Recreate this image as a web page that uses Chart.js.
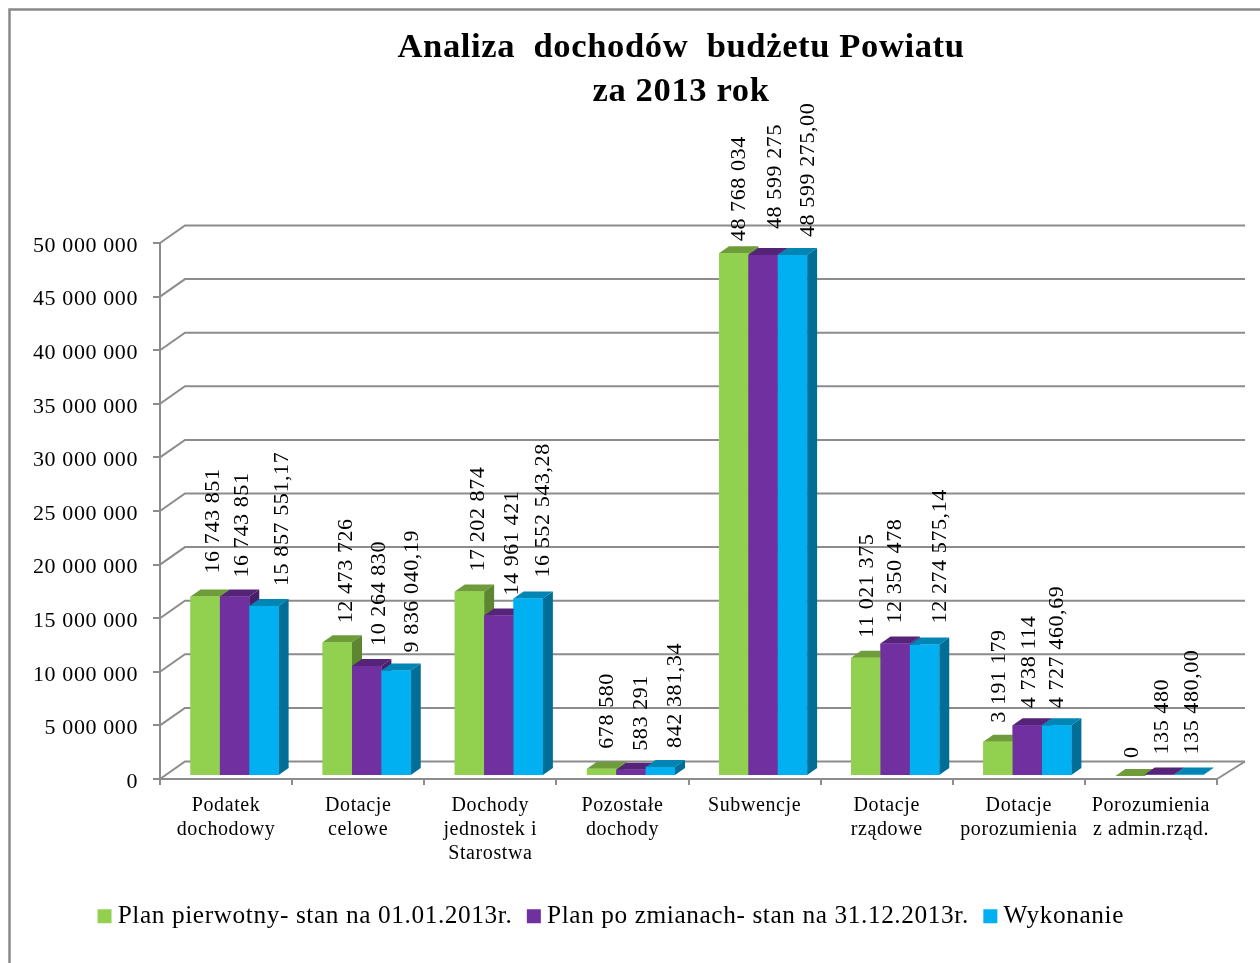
<!DOCTYPE html>
<html><head><meta charset="utf-8">
<style>html,body{margin:0;padding:0;background:#fff}canvas{display:block}</style>
<script src="https://cdn.jsdelivr.net/npm/chart.js@4"></script>
</head><body><canvas id="c" width="1260" height="963"></canvas>
<script>
const categories = [['Podatek','dochodowy'],['Dotacje','celowe'],['Dochody','jednostek i','Starostwa'],['Pozostałe','dochody'],['Subwencje'],['Dotacje','rządowe'],['Dotacje','porozumienia'],['Porozumienia','z admin.rząd.']];
const seriesNames = ['Plan pierwotny- stan na 01.01.2013r.','Plan po zmianach- stan na 31.12.2013r.','Wykonanie'];
const planPierwotny = [16743851,12473726,17202874,678580,48768034,11021375,3191179,0];
const planPoZmianach = [16743851,10264830,14961421,583291,48599275,12350478,4738114,135480];
const wykonanie = [15857551.17,9836040.19,16552543.28,842381.34,48599275.00,12274575.14,4727460.69,135480.00];
const labelsPierwotny = ['16 743 851','12 473 726','17 202 874','678 580','48 768 034','11 021 375','3 191 179','0'];
const labelsPoZmianach = ['16 743 851','10 264 830','14 961 421','583 291','48 599 275','12 350 478','4 738 114','135 480'];
const labelsWykonanie = ['15 857 551,17','9 836 040,19','16 552 543,28','842 381,34','48 599 275,00','12 274 575,14','4 727 460,69','135 480,00'];
const titleLines = ['Analiza  dochodów  budżetu Powiatu','za 2013 rok'];

const front = ['#92D050','#7030A0','#00B0F0'];
const topFace = ['#6E9C3A','#552479','#0085B5'];
const sideFace = ['#5E8630','#481F68','#006E96'];
const valueLabels = [labelsPierwotny, labelsPoZmianach, labelsWykonanie];
// hand-placed label offsets from the top-centre of each bar, as in the reference
const labelDx = [[8,9,9,6,6,1,1,2],[8,13,13,10,12,0,2,3],[18,16,15,15,16,16,1,3]];
const labelDy = [[-23,-19,-20,-20,-12,-20,-19,-18],[-19,-20,-20,-19,-26,-20,-17,-20],[-20,-18,-21,-19,-18,-21,-17,-20]];
const SHIFT_X = 8.5, SHIFT_Y = -3, DX = 10, DY = -7, WALL_X = 25, WALL_Y = -17.5, WALL_XR = 28;
const GRID = '#8C8C8C';

function poly(ctx, pts, fill){
  ctx.fillStyle = fill; ctx.beginPath();
  pts.forEach((p,i)=> i ? ctx.lineTo(p[0],p[1]) : ctx.moveTo(p[0],p[1]));
  ctx.closePath(); ctx.fill();
}

const plugin3d = {
  id:'plugin3d',
  beforeUpdate(chart){ chart.ctx.letterSpacing = '0.6px'; },
  afterLayout(chart){
    chart.titleBlock.left = 102; chart.titleBlock.right = 1260;
    chart.legend.left = -16; chart.legend.right = 1244;
    chart.legend.top += 2; chart.legend.bottom += 2;
  },
  beforeDraw(chart){
    const ctx = chart.ctx;
    ctx.save();
    ctx.fillStyle = '#fff'; ctx.fillRect(0,0,1260,963);
    ctx.strokeStyle = '#8A8A8A'; ctx.lineWidth = 2.5;
    ctx.beginPath(); ctx.moveTo(9.5,963); ctx.lineTo(9.5,9.5); ctx.lineTo(1260,9.5); ctx.stroke();
    ctx.restore();
  },
  beforeDatasetsDraw(chart){
    const {ctx, scales:{y}, chartArea:a} = chart;
    ctx.save();
    ctx.strokeStyle = GRID; ctx.lineWidth = 2;
    y.ticks.forEach(t=>{
      const py = y.getPixelForValue(t.value);
      ctx.beginPath();
      ctx.moveTo(a.left,py); ctx.lineTo(a.left+WALL_X,py+WALL_Y); ctx.lineTo(a.right+WALL_XR,py+WALL_Y);
      ctx.stroke();
    });
    const by = y.getPixelForValue(0);
    ctx.beginPath(); ctx.moveTo(a.right,by); ctx.lineTo(a.right+WALL_XR,by+WALL_Y); ctx.stroke();
    ctx.restore();
    ctx.save();
    ctx.translate(SHIFT_X,SHIFT_Y);
  },
  afterDatasetsDraw(chart){
    const ctx = chart.ctx;
    categories.forEach((_,i)=>{
      chart.data.datasets.forEach((ds,d)=>{
        const el = chart.getDatasetMeta(d).data[i];
        const p = el.getProps(['x','y','base','width'],true);
        const x1 = p.x-p.width/2, x2 = p.x+p.width/2;
        poly(ctx,[[x1,p.y],[x1+DX,p.y+DY],[x2+DX,p.y+DY],[x2,p.y]],topFace[d]);
        poly(ctx,[[x2,p.y],[x2+DX,p.y+DY],[x2+DX,p.base+DY],[x2,p.base]],sideFace[d]);
        el.draw(ctx);
      });
    });
    ctx.font = '22px "Liberation Serif"';
    ctx.fillStyle = '#000';
    ctx.textAlign = 'left'; ctx.textBaseline = 'middle';
    categories.forEach((_,i)=>{
      chart.data.datasets.forEach((ds,d)=>{
        const el = chart.getDatasetMeta(d).data[i];
        const p = el.getProps(['x','y'],true);
        ctx.save();
        ctx.translate(p.x+labelDx[d][i], p.y+labelDy[d][i]);
        ctx.rotate(-Math.PI/2);
        ctx.fillText(valueLabels[d][i],0,0);
        ctx.restore();
      });
    });
    ctx.restore();
  }
};

new Chart(document.getElementById('c'),{
  type:'bar',
  data:{labels:categories,datasets:[
    {label:seriesNames[0],data:planPierwotny,backgroundColor:front[0]},
    {label:seriesNames[1],data:planPoZmianach,backgroundColor:front[1]},
    {label:seriesNames[2],data:wykonanie,backgroundColor:front[2]}
  ]},
  plugins:[plugin3d],
  options:{
    responsive:false,animation:false,
    layout:{padding:{left:0,right:43,top:0,bottom:26}},
    datasets:{bar:{categoryPercentage:0.667,barPercentage:1,borderWidth:0}},
    scales:{
      x:{
        afterFit(s){s.height=101.7;},
        grid:{drawOnChartArea:false,drawTicks:true,tickLength:6,color:GRID,lineWidth:2,offset:true},
        border:{color:GRID,width:2},
        ticks:{autoSkip:false,maxRotation:0,minRotation:0,padding:9,color:'#000',font:{family:'"Liberation Serif"',size:20,lineHeight:1.2}}
      },
      y:{
        min:0,max:50000000,
        afterFit(s){s.width=160;},
        grid:{drawOnChartArea:false,drawTicks:true,tickLength:7,color:GRID,lineWidth:2},
        border:{color:GRID,width:2},
        ticks:{stepSize:5000000,padding:15,labelOffset:3,color:'#000',font:{family:'"Liberation Serif"',size:22},
          callback:v=>String(v).replace(/\B(?=(\d{3})+$)/g,' ')}
      }
    },
    plugins:{
      tooltip:{enabled:false},
      title:{display:true,text:titleLines,color:'#000',padding:{top:26,bottom:129},
        font:{family:'"Liberation Serif"',size:34.6,weight:'bold',lineHeight:44/34.6}},
      legend:{display:true,position:'bottom',
        labels:{usePointStyle:true,pointStyle:'rect',boxWidth:1,boxHeight:14,padding:21,color:'#000',
          font:{family:'"Liberation Serif"',size:25.3}}}
    }
  }
});
</script></body></html>
